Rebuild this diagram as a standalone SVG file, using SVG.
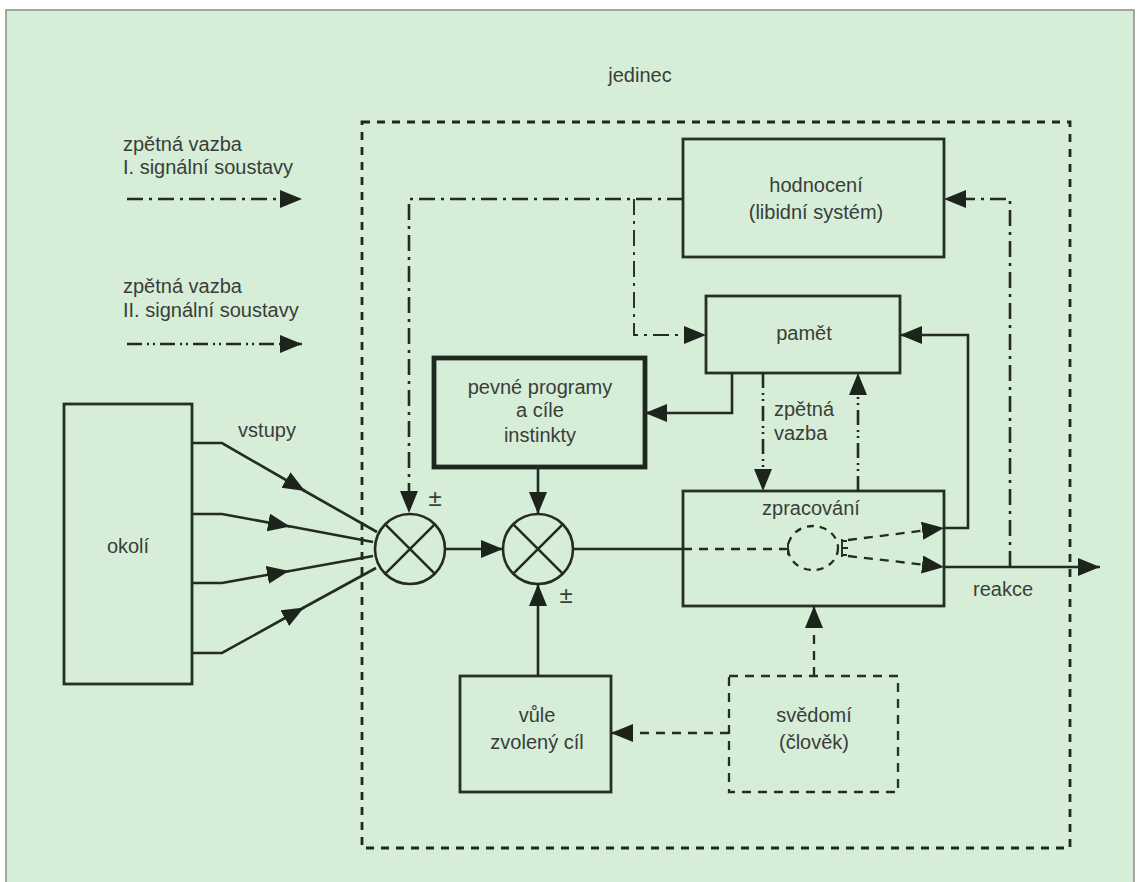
<svg xmlns="http://www.w3.org/2000/svg" width="1139" height="882" viewBox="0 0 1139 882">
  <style>
    .frame { fill: #d6edd7; stroke: #8c8c8c; stroke-width: 1.5; }
    .box { fill: none; stroke: #263026; stroke-width: 2.8; }
    .thick { fill: none; stroke: #1f281f; stroke-width: 4.8; }
    .dbox { fill: none; stroke: #263026; stroke-width: 2.3; stroke-dasharray: 9 7; }
    .outer { fill: none; stroke: #1f281f; stroke-width: 2.8; stroke-dasharray: 8 7; }
    .ln { fill: none; stroke: #232b23; stroke-width: 2.6; }
    .thin { stroke-width: 1.9; }
    .dash { stroke-dasharray: 9 7; stroke-width: 2.3; }
    .sig1 { stroke-dasharray: 16 6 3 6; }
    .sig2 { stroke-dasharray: 15 5 2 4 2 5; }
    .t { font-family: "Liberation Sans", Arial, sans-serif; font-size: 20px; fill: #3a3d3a; text-anchor: middle; }
    .l { text-anchor: start; }
    .pm { font-size: 24px; }
  </style>
  <defs>
    <marker id="ah" markerUnits="userSpaceOnUse" markerWidth="24" markerHeight="20" refX="22" refY="9" orient="auto">
      <path d="M0,0 L22,9 L0,18 Z" fill="#1c241c"/>
    </marker>
  </defs>

  <!-- background panel -->
  <rect class="frame" x="6" y="10" width="1128" height="880"/>

  <!-- the individual (dashed boundary) -->
  <g id="jedinec">
    <rect class="outer" x="362" y="122" width="708" height="726"/>
    <text class="t" x="640" y="82">jedinec</text>
  </g>

  <!-- legend -->
  <g id="legend">
    <text class="t l" x="123" y="151">zpětná vazba</text>
    <text class="t l" x="123" y="174">I. signální soustavy</text>
    <text class="t l" x="123" y="293">zpětná vazba</text>
    <text class="t l" x="123" y="317">II. signální soustavy</text>
  </g>

  <!-- nodes -->
  <g id="okoli">
    <rect class="box" x="64" y="404" width="128" height="280"/>
    <text class="t" x="128" y="553">okolí</text>
  </g>

  <g id="hodnoceni">
    <rect class="box" x="683" y="139" width="261" height="118"/>
    <text class="t" x="816" y="192">hodnocení</text>
    <text class="t" x="816" y="219">(libidní systém)</text>
  </g>

  <g id="pamet">
    <rect class="box" x="706" y="296" width="194" height="77"/>
    <text class="t" x="804" y="340">pamět</text>
  </g>

  <g id="pevne-programy">
    <rect class="thick" x="434" y="358" width="211" height="109"/>
    <text class="t" x="540" y="394">pevné programy</text>
    <text class="t" x="540" y="417">a cíle</text>
    <text class="t" x="540" y="442">instinkty</text>
  </g>

  <g id="zpracovani">
    <rect class="box" x="683" y="491" width="261" height="115"/>
    <text class="t" x="811" y="515">zpracování</text>
    <ellipse class="ln dash" cx="813" cy="548" rx="25" ry="22" style="stroke-dasharray:7 6"/>
  </g>

  <g id="vule">
    <rect class="box" x="460" y="676" width="151" height="116"/>
    <text class="t" x="537" y="722">vůle</text>
    <text class="t" x="537" y="749">zvolený cíl</text>
  </g>

  <g id="svedomi">
    <rect class="dbox" x="729" y="676" width="169" height="116"/>
    <text class="t" x="814" y="722">svědomí</text>
    <text class="t" x="814" y="749">(člověk)</text>
  </g>

  <g id="soucet-1">
    <circle class="ln" cx="410" cy="549" r="35"/>
    <path class="ln" d="M385.3,524.3 L434.7,573.7 M434.7,524.3 L385.3,573.7"/>
    <text class="t pm" x="435" y="506">±</text>
  </g>

  <g id="soucet-2">
    <circle class="ln" cx="538" cy="549" r="35"/>
    <path class="ln" d="M513.3,524.3 L562.7,573.7 M562.7,524.3 L513.3,573.7"/>
    <text class="t pm" x="566" y="603">±</text>
  </g>

  <!-- labels on connectors -->
  <g id="labels">
    <text class="t" x="267" y="437">vstupy</text>
    <text class="t l" x="774" y="416">zpětná</text>
    <text class="t l" x="774" y="440">vazba</text>
    <text class="t" x="1003" y="596">reakce</text>
  </g>

  <!-- connectors -->
  <g id="connectors">
    <!-- legend samples -->
    <path class="ln sig1" d="M127,199 H302" marker-end="url(#ah)"/>
    <path class="ln sig2" d="M127,344 H302" marker-end="url(#ah)"/>

    <!-- inputs from the surroundings -->
    <path class="ln" d="M192,443 H222 L305,491" marker-end="url(#ah)"/>
    <path class="ln" d="M303,490 L377,532"/>
    <path class="ln" d="M192,514 H222 L290,526.5" marker-end="url(#ah)"/>
    <path class="ln" d="M288,526 L373,542"/>
    <path class="ln" d="M192,583 H222 L289,571" marker-end="url(#ah)"/>
    <path class="ln" d="M287,571.5 L373,556"/>
    <path class="ln" d="M192,653 H222 L304,607.5" marker-end="url(#ah)"/>
    <path class="ln" d="M302,608.5 L376,568"/>

    <!-- between summing points -->
    <path class="ln" d="M445,549 H503" marker-end="url(#ah)"/>
    <path class="ln" d="M538,467 V514" marker-end="url(#ah)"/>
    <path class="ln" d="M538,676 V584" marker-end="url(#ah)"/>
    <path class="ln" d="M573,549 H683"/>

    <!-- evaluation feedback -->
    <path class="ln sig1" d="M683,199 H409 V513" marker-end="url(#ah)"/>
    <path class="ln sig1 thin" d="M634,199 V335 H706" marker-end="url(#ah)"/>
    <path class="ln sig1" d="M1010,567 V199 H944" marker-end="url(#ah)"/>

    <!-- memory links -->
    <path class="ln" d="M732,373 V413 H645" marker-end="url(#ah)"/>
    <path class="ln sig2" d="M763,373 V491" marker-end="url(#ah)"/>
    <path class="ln sig2" d="M858,491 V373" marker-end="url(#ah)"/>
    <path class="ln" d="M944,528 H968 V335 H900" marker-end="url(#ah)"/>

    <!-- processing internals -->
    <path class="ln dash" d="M683,549 H786" style="stroke-dasharray:9 7"/>
    <path class="ln thin" d="M788,543 V555 M784,549 H788"/>
    <path class="ln thin" d="M842,539 V557 M842,541 H847 M842,548 H848 M842,555 H847"/>
    <path class="ln dash" d="M848,540 L944,528" marker-end="url(#ah)"/>
    <path class="ln dash" d="M848,556 L944,567" marker-end="url(#ah)"/>

    <!-- reaction output -->
    <path class="ln" d="M944,567 H1100" marker-end="url(#ah)"/>

    <!-- conscience -->
    <path class="ln dash" d="M729,733 H611" marker-end="url(#ah)"/>
    <path class="ln dash" d="M814,676 V606" marker-end="url(#ah)"/>
  </g>
</svg>
